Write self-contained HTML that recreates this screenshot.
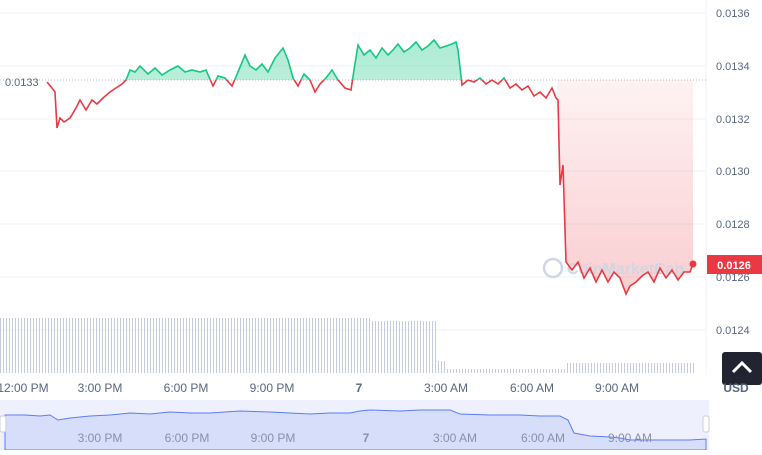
<!DOCTYPE html><html><head><style>body{margin:0;background:#fff;font-family:"Liberation Sans",sans-serif}</style></head><body>
<svg width="762" height="450" xmlns="http://www.w3.org/2000/svg" xmlns:xlink="http://www.w3.org/1999/xlink" font-family="Liberation Sans, sans-serif">
<defs>
<pattern id="vb" width="3" height="10" patternUnits="userSpaceOnUse"><rect x="0" y="0" width="1" height="10" fill="#c5cbdc"/></pattern>
<linearGradient id="gg" x1="0" y1="0" x2="0" y2="1"><stop offset="0" stop-color="#16c784" stop-opacity=".35"/><stop offset="1" stop-color="#16c784" stop-opacity=".03"/></linearGradient>
<linearGradient id="rg" x1="0" y1="0" x2="0" y2="1"><stop offset="0" stop-color="#ea3943" stop-opacity=".03"/><stop offset="1" stop-color="#ea3943" stop-opacity=".25"/></linearGradient>
<clipPath id="up"><rect x="0" y="0" width="706" height="80"/></clipPath>
<clipPath id="dn"><rect x="0" y="80" width="706" height="300"/></clipPath>
<clipPath id="dnr"><rect x="557" y="80" width="149" height="300"/></clipPath>
<path id="p" d="M47,82 L52,88 L55,92 L57,128 L60,118 L64,122 L70,118 L76,108 L80,100 L86,110 L92,100 L97,104 L103,98 L110,92 L116,88 L122,84 L126,80 L130,70 L135,72 L140,66 L148,74 L155,68 L162,75 L170,70 L178,66 L185,72 L192,70 L200,72 L206,70 L213,86 L218,76 L225,78 L232,86 L238,72 L245,55 L250,66 L256,70 L262,64 L268,72 L275,58 L283,48 L288,60 L293,78 L298,86 L304,74 L310,80 L315,92 L320,84 L326,78 L332,70 L338,80 L345,88 L351,90 L354,70 L358,45 L364,55 L370,50 L376,58 L382,48 L388,55 L393,50 L398,44 L404,52 L410,48 L416,42 L422,50 L428,46 L434,40 L440,48 L446,46 L452,44 L456,42 L458,50 L462,85 L468,80 L474,82 L480,78 L486,84 L492,80 L498,84 L504,78 L510,88 L516,84 L522,90 L528,86 L534,96 L540,92 L546,98 L552,88 L556,98 L558,100 L560,185 L563,165 L566,262 L572,270 L578,262 L584,278 L590,268 L596,282 L602,270 L608,282 L614,272 L620,278 L626,294 L630,286 L636,282 L642,276 L648,272 L654,282 L660,268 L666,278 L672,270 L678,280 L684,272 L690,272 L693,264"/>
<path id="ar" d="M47,80 L47,82 L52,88 L55,92 L57,128 L60,118 L64,122 L70,118 L76,108 L80,100 L86,110 L92,100 L97,104 L103,98 L110,92 L116,88 L122,84 L126,80 L130,70 L135,72 L140,66 L148,74 L155,68 L162,75 L170,70 L178,66 L185,72 L192,70 L200,72 L206,70 L213,86 L218,76 L225,78 L232,86 L238,72 L245,55 L250,66 L256,70 L262,64 L268,72 L275,58 L283,48 L288,60 L293,78 L298,86 L304,74 L310,80 L315,92 L320,84 L326,78 L332,70 L338,80 L345,88 L351,90 L354,70 L358,45 L364,55 L370,50 L376,58 L382,48 L388,55 L393,50 L398,44 L404,52 L410,48 L416,42 L422,50 L428,46 L434,40 L440,48 L446,46 L452,44 L456,42 L458,50 L462,85 L468,80 L474,82 L480,78 L486,84 L492,80 L498,84 L504,78 L510,88 L516,84 L522,90 L528,86 L534,96 L540,92 L546,98 L552,88 L556,98 L558,100 L560,185 L563,165 L566,262 L572,270 L578,262 L584,278 L590,268 L596,282 L602,270 L608,282 L614,272 L620,278 L626,294 L630,286 L636,282 L642,276 L648,272 L654,282 L660,268 L666,278 L672,270 L678,280 L684,272 L690,272 L693,264 L693,80 Z"/>
</defs>
<g stroke="#eff2f5" stroke-width="1">
<line x1="0" x2="706" y1="13" y2="13"/><line x1="0" x2="706" y1="66" y2="66"/><line x1="0" x2="706" y1="119" y2="119"/><line x1="0" x2="706" y1="171" y2="171"/><line x1="0" x2="706" y1="224" y2="224"/><line x1="0" x2="706" y1="277" y2="277"/><line x1="0" x2="706" y1="330" y2="330"/>
<line x1="706" x2="706" y1="0" y2="375"/>
</g>
<g fill="url(#vb)">
<rect x="0" y="318" width="372" height="55"/><rect x="372" y="321" width="66" height="52"/><rect x="438" y="361" width="9" height="12"/><rect x="447" y="369" width="118" height="4"/><rect x="565" y="363" width="130" height="10"/>
</g>
<line x1="0" x2="706" y1="80" y2="80" stroke="#b0b6c3" stroke-dasharray="1,2"/>
<text x="5" y="86" font-size="11" fill="#58667e">0.0133</text>
<g font-size="11" fill="#58667e">
<text x="716" y="17">0.0136</text><text x="716" y="70">0.0134</text><text x="716" y="123">0.0132</text><text x="716" y="175">0.0130</text><text x="716" y="228">0.0128</text><text x="716" y="334">0.0124</text><text x="716" y="281">0.0126</text>
</g>
<use href="#ar" xlink:href="#ar" fill="url(#gg)" clip-path="url(#up)"/>
<use href="#ar" xlink:href="#ar" fill="url(#rg)" clip-path="url(#dnr)"/>
<circle cx="553" cy="268" r="9" fill="none" stroke="#cfd6e4" stroke-width="2.5"/>
<text x="567" y="274" font-size="16" font-weight="bold" fill="#cfd6e4">CoinMarketCap</text>
<use href="#p" xlink:href="#p" fill="none" stroke="#16c784" stroke-width="1.6" clip-path="url(#up)"/>
<use href="#p" xlink:href="#p" fill="none" stroke="#ea3943" stroke-width="1.6" clip-path="url(#dn)"/>
<circle cx="693" cy="264" r="3.5" fill="#ea3943"/>
<rect x="707" y="255" width="55" height="19" fill="#ea3943"/>
<text x="734" y="269" font-size="11" font-weight="bold" fill="#fff" text-anchor="middle">0.0126</text>
<rect x="722" y="352" width="40" height="33" rx="3" fill="#222531"/>
<path d="M733,372 L742,363 L751,372" fill="none" stroke="#fff" stroke-width="3"/>
<g font-size="12" fill="#58667e" text-anchor="middle">
<text x="23" y="392">12:00 PM</text><text x="100" y="392">3:00 PM</text><text x="186" y="392">6:00 PM</text><text x="272" y="392">9:00 PM</text><text x="359" y="392" font-weight="bold">7</text><text x="446" y="392">3:00 AM</text><text x="532" y="392">6:00 AM</text><text x="617" y="392">9:00 AM</text><text x="736" y="392" font-weight="bold">USD</text>
</g>
<rect x="0" y="400" width="709" height="50" fill="#eef1fd"/>
<path d="M5,415 L25,415 L40,416 L50,415 L58,420 L70,418 L90,416 L110,415 L130,413 L150,414 L170,412 L190,413 L210,413 L240,411 L270,412 L290,413 L310,414 L330,413 L350,413 L360,411 L370,410 L400,411 L420,410 L450,410 L460,414 L490,415 L520,415 L540,416 L560,416 L568,420 L574,433 L590,436 L610,437 L620,438 L630,440 L660,440 L690,440 L706,439 L706,450 L5,450 Z" fill="#d7defa" stroke="#5b7cf5" stroke-width="1"/>
<g font-size="12" fill="#8791a6" text-anchor="middle">
<text x="100" y="442">3:00 PM</text><text x="187" y="442">6:00 PM</text><text x="273" y="442">9:00 PM</text><text x="366" y="442" font-weight="bold">7</text><text x="455" y="442">3:00 AM</text><text x="543" y="442">6:00 AM</text><text x="630" y="442">9:00 AM</text>
</g>
<rect x="0" y="416" width="6" height="16" rx="2" fill="#fff" stroke="#ccd"/>
<rect x="703" y="416" width="6" height="16" rx="2" fill="#fff" stroke="#ccd"/>
</svg>
</body></html>
